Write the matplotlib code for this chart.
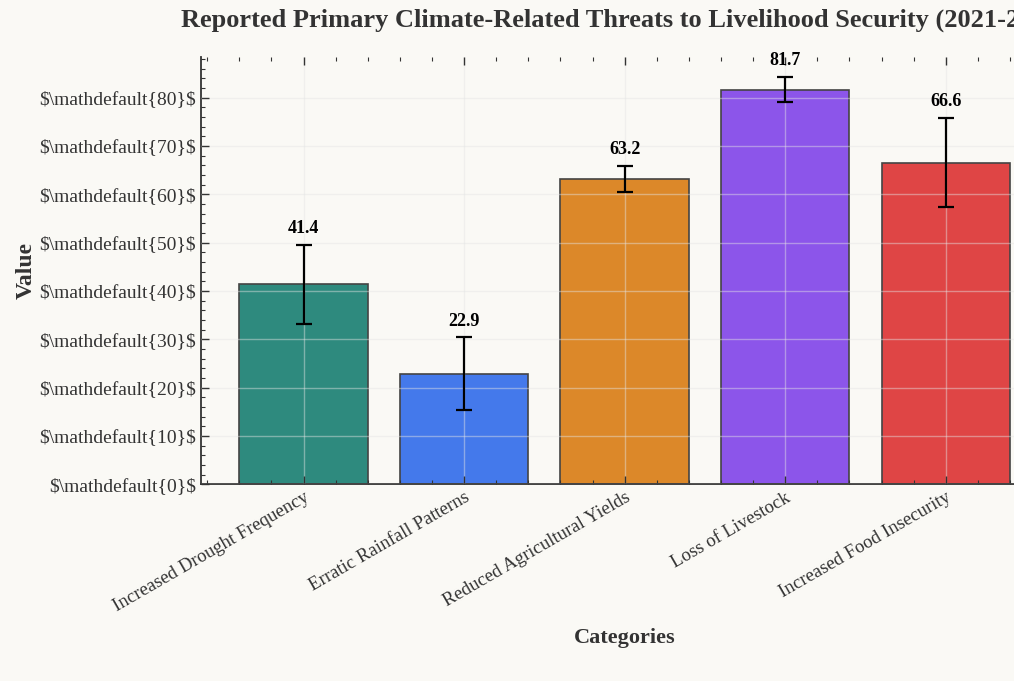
import matplotlib
matplotlib.use("Agg")
import matplotlib.pyplot as plt
from matplotlib.ticker import AutoMinorLocator, FuncFormatter, MultipleLocator

# Data
categories = [
    "Increased Drought Frequency",
    "Erratic Rainfall Patterns",
    "Reduced Agricultural Yields",
    "Loss of Livestock",
    "Increased Food Insecurity",
]
values = [41.4, 22.9, 63.2, 81.7, 66.6]
errors = [8.2, 7.5, 2.7, 2.6, 9.3]
bar_colors = ["#2E8A7E", "#4479EB", "#DC8829", "#8C55EA", "#DF4545"]

BG = "#FAF9F5"
plt.rcParams["font.family"] = ["Liberation Serif", "DejaVu Serif"]

fig = plt.figure(figsize=(10.14, 6.81), dpi=100, facecolor=BG)
ax = fig.add_axes([0.198, 0.289, 0.836, 0.627])
ax.set_facecolor(BG)

x = list(range(len(categories)))
ax.bar(x, values, width=0.8, color=bar_colors, edgecolor="#444444", linewidth=1.2, zorder=2)
ax.errorbar(x, values, yerr=errors, fmt="none", ecolor="black", elinewidth=1.6,
            capsize=5.5, capthick=1.6, zorder=4)

# Value labels above the error bars
for xi, v, e in zip(x, values, errors):
    ax.text(xi, v + e + 1.6, f"{v:.1f}", ha="center", va="bottom",
            fontsize=13, fontweight="bold", color="black", zorder=5)

ax.set_xlim(-0.64, 4.64)
ax.set_ylim(0, 88.4)

ax.set_xticks(x)
ax.set_xticklabels(categories, rotation=30, ha="right", rotation_mode="anchor",
                   fontsize=13.5, color="#333333")
ax.yaxis.set_major_locator(MultipleLocator(10))
ax.yaxis.set_major_formatter(FuncFormatter(lambda v, p: r"\$\mathdefault{%d}\$" % v))
ax.xaxis.set_minor_locator(AutoMinorLocator(5))
ax.yaxis.set_minor_locator(AutoMinorLocator(5))
ax.tick_params(axis="y", labelsize=14, labelcolor="#333333")

ax.tick_params(which="both", direction="in", top=True, right=True, color="#333333")
ax.tick_params(which="major", length=6, width=1.0)
ax.tick_params(which="minor", length=3, width=0.8)

ax.spines["top"].set_visible(False)
ax.spines["right"].set_visible(False)
ax.spines["left"].set_color("#333333")
ax.spines["bottom"].set_color("#333333")
ax.spines["left"].set_linewidth(1.3)
ax.spines["bottom"].set_linewidth(1.3)

ax.grid(True, which="major", color="#e4e4e4", alpha=0.45, linewidth=1.0, zorder=3)
ax.set_axisbelow(False)

ax.set_xlabel("Categories", fontsize=16, fontweight="bold", color="#333333", labelpad=9)
ax.set_ylabel("Value", fontsize=17, fontweight="bold", color="#333333", labelpad=2)
ax.set_title("Reported Primary Climate-Related Threats to Livelihood Security (2021-2023)",
             fontsize=19, fontweight="bold", color="#333333", y=1.072, pad=0)

fig.savefig("out.png", dpi=100, facecolor=BG)
